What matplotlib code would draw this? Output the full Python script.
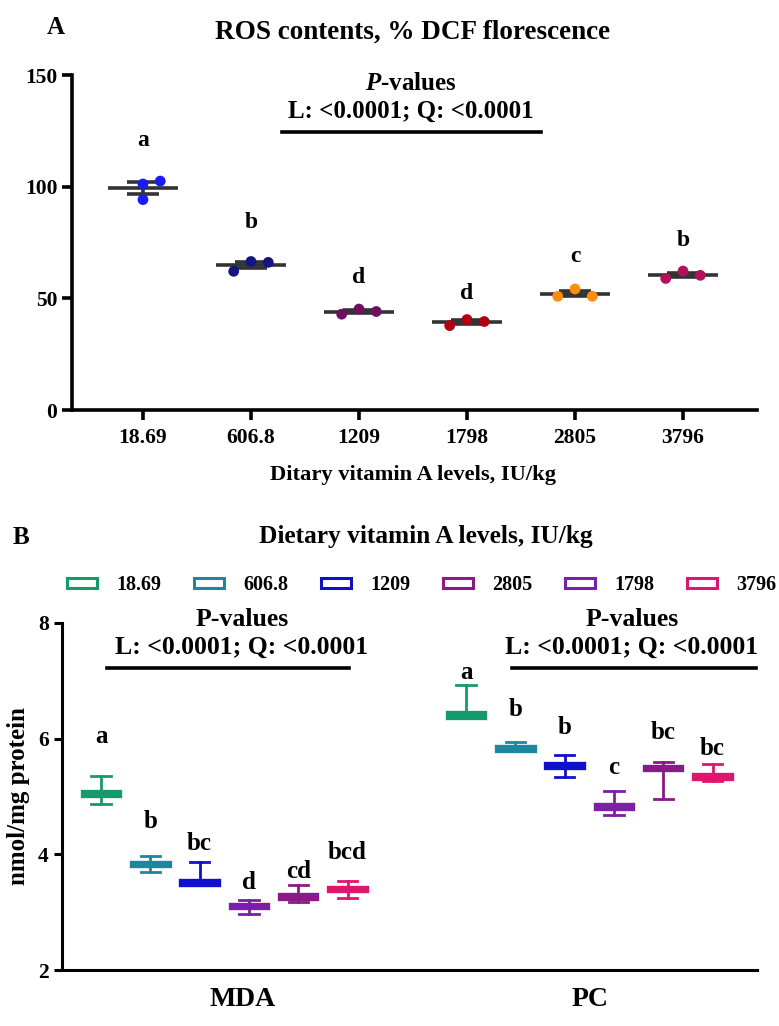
import matplotlib
matplotlib.use("Agg")
import matplotlib.pyplot as plt
import numpy as np
from matplotlib.patches import Patch

plt.rcParams['font.family'] = ['Liberation Serif', 'DejaVu Serif']
plt.rcParams['font.weight'] = 'bold'
plt.rcParams['mathtext.fontset'] = 'custom'
plt.rcParams['mathtext.rm'] = 'Liberation Serif:bold'
plt.rcParams['mathtext.it'] = 'Liberation Serif:italic:bold'
plt.rcParams['mathtext.bf'] = 'Liberation Serif:bold'

# ---------------- Panel A data ----------------
a_levels = ["18.69", "606.8", "1209", "1798", "2805", "3796"]
a_points = [
    [101.2, 102.5, 94.2],
    [62.1, 66.5, 66.1],
    [42.9, 45.2, 44.1],
    [37.8, 40.5, 39.6],
    [50.9, 54.2, 50.9],
    [58.9, 62.2, 60.3],
]
a_jitter = [
    [0.0, 0.16, 0.0],
    [-0.16, 0.0, 0.16],
    [-0.16, 0.0, 0.16],
    [-0.16, 0.0, 0.16],
    [-0.16, 0.0, 0.16],
    [-0.16, 0.0, 0.16],
]
a_colors = ["#1a1aff", "#141485", "#6e0f62", "#b00012", "#ff8c0a", "#b30f5c"]
a_letters = ["a", "b", "d", "d", "c", "b"]
a_letter_y = [120.5, 84.0, 59.4, 52.0, 68.8, 75.9]

# ---------------- Panel B data ----------------
b_groups = ["MDA", "PC"]
b_levels = ["18.69", "606.8", "1209", "1798", "2805", "3796"]
b_colors = ["#159a6c", "#1f86a0", "#1010cc", "#7a1fa8", "#8a1a86", "#e0156e"]
mda_box_lo = [5.01, 3.79, 3.47, 3.07, 3.23, 3.36]
mda_box_hi = [5.10, 3.86, 3.56, 3.14, 3.32, 3.44]
mda_wlo = [4.87, 3.69, 3.47, 2.97, 3.18, 3.24]
mda_whi = [5.36, 3.97, 3.86, 3.21, 3.47, 3.54]
pc_box_lo = [6.36, 5.78, 5.49, 4.78, 5.45, 5.31]
pc_box_hi = [6.46, 5.88, 5.58, 4.87, 5.53, 5.39]
pc_wlo = [6.36, 5.78, 5.33, 4.68, 4.96, 5.26]
pc_whi = [6.92, 5.94, 5.71, 5.10, 5.60, 5.56]
mda_letters = ["a", "b", "bc", "d", "cd", "bcd"]
mda_letter_y = [6.03, 4.56, 4.18, 3.51, 3.70, 4.03]
pc_letters = ["a", "b", "b", "c", "bc", "bc"]
pc_letter_y = [7.14, 6.50, 6.19, 5.50, 6.10, 5.83]
legend_order = ["18.69", "606.8", "1209", "2805", "1798", "3796"]

W, H = 779, 1026
fig = plt.figure(figsize=(W / 100, H / 100), dpi=100)

def frac(x0, y0, x1, y1):
    return [x0 / W, 1 - y1 / H, (x1 - x0) / W, (y1 - y0) / H]

# ================= Panel A =================
axA = fig.add_axes(frac(72, 75, 757, 410))
xA = np.arange(len(a_levels))
for i, pts in enumerate(a_points):
    pts = np.array(pts)
    m = pts.mean()
    sem = pts.std(ddof=1) / np.sqrt(len(pts))
    axA.hlines(m, i - 0.32, i + 0.32, color="#333333", lw=2.6, zorder=2)
    axA.errorbar(i, m, yerr=sem, fmt='none', ecolor="#333333", elinewidth=2.6,
                 capsize=11.5, capthick=2.6, zorder=2)
    axA.scatter(i + np.array(a_jitter[i]), pts, s=60, color=a_colors[i], zorder=3,
                edgecolors='none')
    axA.text(i, a_letter_y[i], a_letters[i], ha='center', va='center',
             fontsize=17, fontweight='bold')

axA.set_xlim(-0.657, 5.685)
axA.set_ylim(0, 150)
axA.set_yticks([0, 50, 100, 150])
axA.set_xticks(xA)
axA.set_xticklabels(a_levels)
for s in ['top', 'right']:
    axA.spines[s].set_visible(False)
for s in ['left', 'bottom']:
    axA.spines[s].set_linewidth(2.6)
axA.tick_params(axis='both', width=2.6, length=7, labelsize=15.5, direction='out')
for lab in axA.get_xticklabels() + axA.get_yticklabels():
    lab.set_fontweight('bold')
axA.tick_params(axis='x', pad=6)

# p-value line A
axA.plot([1.287, 3.685], [124.6, 124.6], color='black', lw=2.6, clip_on=False)
axA.text(2.48, 146.4, r"$\mathit{P}$-values", ha='center', va='center', fontsize=18,
         fontweight='bold')
axA.text(2.48, 133.9, "L: <0.0001; Q: <0.0001", ha='center', va='center',
         fontsize=18, fontweight='bold')

fig.text(56 / W, 1 - 27 / H, "A", ha='center', va='center', fontsize=18, fontweight='bold')
fig.text(413 / W, 1 - 32 / H, "ROS contents, % DCF florescence", ha='center',
         va='center', fontsize=19.5, fontweight='bold')
fig.text(413 / W, 1 - 475 / H, "Ditary vitamin A levels, IU/kg", ha='center',
         va='center', fontsize=16.2, fontweight='bold')

# ================= Panel B =================
axB = fig.add_axes(frac(62, 623, 757, 970))
sp = 49.3
mda_pos = np.arange(6) * 1.0
pc_pos = (466 - 101) / sp + np.arange(6)

def draw_boxes(ax, pos, lo, hi, wlo, whi):
    for i in range(6):
        st = [dict(med=(lo[i] + hi[i]) / 2, q1=lo[i], q3=hi[i],
                   whislo=wlo[i], whishi=whi[i], fliers=[])]
        c = b_colors[i]
        ax.bxp(st, positions=[pos[i]], widths=0.78, capwidths=0.39,
               showfliers=False, patch_artist=True,
               boxprops=dict(facecolor='white', edgecolor=c, linewidth=2.4),
               whiskerprops=dict(color=c, linewidth=2.0),
               capprops=dict(color=c, linewidth=2.0),
               medianprops=dict(color=c, linewidth=2.4),
               manage_ticks=False)

draw_boxes(axB, mda_pos, mda_box_lo, mda_box_hi, mda_wlo, mda_whi)
draw_boxes(axB, pc_pos, pc_box_lo, pc_box_hi, pc_wlo, pc_whi)

for i in range(6):
    axB.text(mda_pos[i], mda_letter_y[i], mda_letters[i], ha='center', va='center',
             fontsize=18, fontweight='bold')
    axB.text(pc_pos[i], pc_letter_y[i], pc_letters[i], ha='center', va='center',
             fontsize=18, fontweight='bold')

axB.set_xlim((62 - 101) / sp, (757 - 101) / sp)
axB.set_ylim(2, 8)
axB.set_yticks([2, 4, 6, 8])
axB.set_xticks([(243 - 101) / sp, (590 - 101) / sp])
axB.set_xticklabels(b_groups)
for s in ['top', 'right']:
    axB.spines[s].set_visible(False)
for s in ['left', 'bottom']:
    axB.spines[s].set_linewidth(2.2)
axB.tick_params(axis='y', width=2.2, length=6, labelsize=15.5)
axB.tick_params(axis='x', length=0, labelsize=20, pad=12)
for lab in axB.get_xticklabels() + axB.get_yticklabels():
    lab.set_fontweight('bold')
axB.set_ylabel("nmol/mg protein", fontsize=18, fontweight='bold', labelpad=6)

# p-value lines B
for (x0, x1, xc) in [((107 - 101) / sp, (349 - 101) / sp, (242 - 101) / sp),
                     ((512 - 101) / sp, (756 - 101) / sp, (632 - 101) / sp)]:
    axB.plot([x0, x1], [7.23, 7.23], color='black', lw=2.6, clip_on=False)
    axB.text(xc, 8.06, "P-values", ha='center', va='center', fontsize=18.5,
             fontweight='bold', clip_on=False)
    axB.text(xc, 7.58, "L: <0.0001; Q: <0.0001", ha='center', va='center',
             fontsize=18.5, fontweight='bold', clip_on=False)

fig.text(21 / W, 1 - 537 / H, "B", ha='center', va='center', fontsize=18, fontweight='bold')
fig.text(426 / W, 1 - 536 / H, "Dietary vitamin A levels, IU/kg", ha='center',
         va='center', fontsize=18.3, fontweight='bold')

handles = [Patch(facecolor='white', edgecolor=b_colors[b_levels.index(l)], linewidth=2.2)
           for l in legend_order]
fig.legend(handles, legend_order, loc='center left', bbox_to_anchor=(67 / W, 1 - 585 / H),
           ncol=6, frameon=False, handlelength=1.5, handleheight=0.42,
           handletextpad=0.95, columnspacing=1.62, borderpad=0, borderaxespad=0,
           prop=dict(family='Liberation Serif', weight='bold', size=14.5))

fig.savefig("out.png", dpi=100)
